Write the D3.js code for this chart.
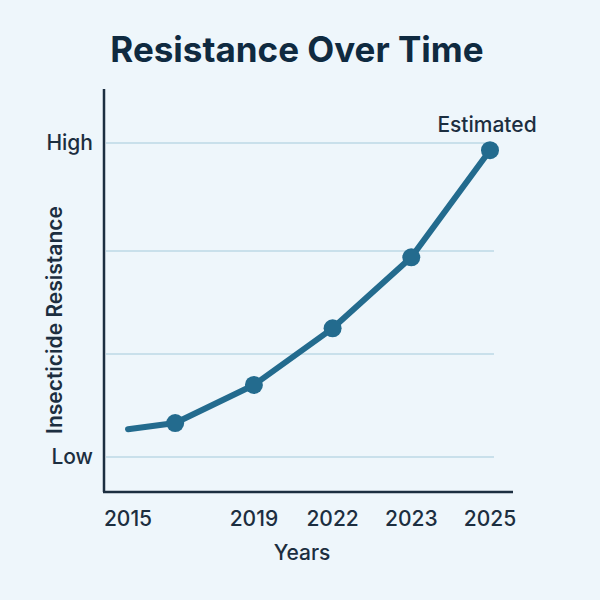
<!DOCTYPE html>
<html>
<head>
<meta charset="utf-8">
<script src="https://cdn.jsdelivr.net/npm/d3@7"></script>
<style>
  body { margin: 0; background: #eef6fb; }
  svg { display: block; font-family: Inter, "Noto Sans", sans-serif; }
</style>
</head>
<body>
<svg width="600" height="600"></svg>
<script>
// data
const steps = [0, 0.6, 1.6, 2.6, 3.6, 4.6]
const resistance = [0.27, 0.33, 0.70, 1.25, 1.94, 2.98]
const markerShown = [false, true, true, true, true, true]
const tickSteps = [0, 1.6, 2.6, 3.6, 4.6]
const tickYears = ['2015', '2019', '2022', '2023', '2025']
const levelValues = [0, 1, 2, 3.05]
const levelLabels = ['Low', null, null, 'High']

const svg = d3.select('svg')
const width = +svg.attr('width')
const height = +svg.attr('height')
const ink = '#1c2e40'
const lineColor = '#236b8e'

svg.append('rect').attr('width', width).attr('height', height).attr('fill', '#eef6fb')

const x = d3.scaleLinear().domain([0, 4.6]).range([128, 490])
const y = d3.scaleLinear().domain([0, 3.05]).range([457, 143])

// grid
svg.append('g').selectAll('line')
  .data(levelValues)
  .join('line')
    .attr('x1', 106).attr('x2', 494)
    .attr('y1', d => y(d)).attr('y2', d => y(d))
    .attr('stroke', '#bcd8e6')
    .attr('stroke-width', 1.5)

// axes lines
svg.append('line')
  .attr('x1', 104).attr('x2', 104)
  .attr('y1', 89).attr('y2', 492)
  .attr('stroke', ink).attr('stroke-width', 2.5)
svg.append('line')
  .attr('x1', 103).attr('x2', 513)
  .attr('y1', 492).attr('y2', 492)
  .attr('stroke', ink).attr('stroke-width', 2.5)

// y tick labels
svg.append('g').selectAll('text')
  .data(levelValues.map((v, i) => ({ v, t: levelLabels[i] })).filter(d => d.t))
  .join('text')
    .attr('x', 93)
    .attr('y', d => y(d.v) + 7)
    .attr('text-anchor', 'end')
    .attr('font-size', 21)
    .attr('font-weight', 500)
    .attr('fill', ink)
    .text(d => d.t)

// x tick labels
svg.append('g').selectAll('text')
  .data(tickSteps)
  .join('text')
    .attr('x', d => x(d))
    .attr('y', 526)
    .attr('text-anchor', 'middle')
    .attr('font-size', 21)
    .attr('font-weight', 500)
    .attr('fill', ink)
    .text((d, i) => tickYears[i])

const pts = steps.map((s, i) => ({ s, v: resistance[i], m: markerShown[i] }))

svg.append('path')
  .datum(pts)
  .attr('d', d3.line().x(d => x(d.s)).y(d => y(d.v)))
  .attr('fill', 'none')
  .attr('stroke', lineColor)
  .attr('stroke-width', 6)
  .attr('stroke-linecap', 'round')
  .attr('stroke-linejoin', 'round')

svg.append('g').selectAll('circle')
  .data(pts.filter(d => d.m))
  .join('circle')
    .attr('cx', d => x(d.s))
    .attr('cy', d => y(d.v))
    .attr('r', 9)
    .attr('fill', lineColor)

const last = pts[pts.length - 1]
svg.append('text')
  .attr('x', x(last.s) - 3)
  .attr('y', y(last.v) - 18)
  .attr('text-anchor', 'middle')
  .attr('font-size', 21)
  .attr('font-weight', 500)
  .attr('fill', ink)
  .text('Estimated')

// titles
svg.append('text')
  .attr('x', 297).attr('y', 62)
  .attr('text-anchor', 'middle')
  .attr('font-size', 35)
  .attr('font-weight', 700)
  .attr('fill', '#0f2a40')
  .text('Resistance Over Time')

svg.append('text')
  .attr('x', 302).attr('y', 560)
  .attr('text-anchor', 'middle')
  .attr('font-size', 21)
  .attr('font-weight', 500)
  .attr('fill', ink)
  .text('Years')

svg.append('text')
  .attr('transform', 'translate(62,320) rotate(-90)')
  .attr('text-anchor', 'middle')
  .attr('font-size', 21)
  .attr('font-weight', 600)
  .attr('fill', ink)
  .text('Insecticide Resistance')
</script>
</body>
</html>
